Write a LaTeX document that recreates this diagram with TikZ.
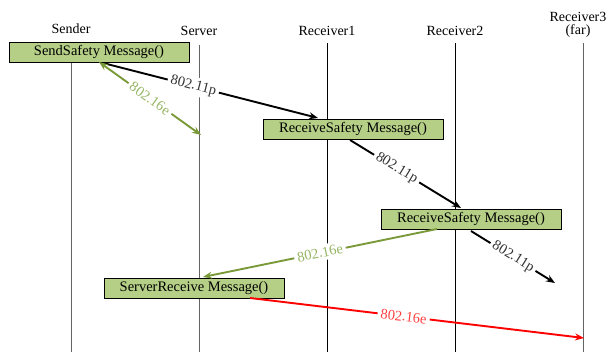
\documentclass[tikz,border=0pt]{standalone}
\usepackage{fontspec}
\setmainfont{Liberation Serif}
\usetikzlibrary{arrows.meta}
\definecolor{boxgreen}{RGB}{181,207,135}
\definecolor{arrowgreen}{RGB}{122,154,58}
\definecolor{labelgreen}{RGB}{150,182,100}
\definecolor{lifegray}{RGB}{100,100,100}
\tikzset{
  >={Stealth[length=9pt,width=7pt]},
  msgbox/.style={draw=black, fill=boxgreen, line width=0.8pt, minimum width=180pt, minimum height=20pt, inner sep=0pt, font=\fontsize{14.5}{16}\selectfont},
  head/.style={font=\fontsize{14}{16}\selectfont, align=center, inner sep=1pt},
  life/.style={line width=0.9pt, draw=lifegray},
  lifeblk/.style={line width=0.7pt, draw=black},
  msg/.style={line width=1.9pt, ->},
  lbl/.style={sloped, fill=white, inner sep=3pt, font=\fontsize{14.5}{16}\selectfont},
}
\begin{document}
\begin{tikzpicture}[x=1pt,y=-1pt]
\useasboundingbox (0,0) rectangle (607,354);

% participant headings
\node[head] (hs)  at (71,29)  {Sender};
\node[head] (hv)  at (199,31) {Server};
\node[head] (hr1) at (327,31) {Receiver1};
\node[head] (hr2) at (455,31) {Receiver2};
\node[head] (hr3) at (578,25) {Receiver3\\[-3pt](far)};

% lifeline ends
\coordinate (s0) at (71,62);   \coordinate (s1) at (71,352);
\coordinate (v0) at (199,45);  \coordinate (v1) at (199,352);
\coordinate (a0) at (327,43);  \coordinate (a1) at (327,352);
\coordinate (b0) at (455,43);  \coordinate (b1) at (455,352);
\coordinate (c0) at (583,43);  \coordinate (c1) at (583,352);

\draw[life] (s0) -- (s1);
\draw[life] (v0) -- (v1);
\draw[lifeblk] (a0) -- (a1);
\draw[lifeblk] (b0) -- (b1);
\draw[life] (c0) -- (c1);

% activity boxes
\node[msgbox] (send) at (99,52)  {SendSafety Message()};
\node[msgbox] (rx1)  at (353,129) {ReceiveSafety Message()};
\node[msgbox] (rx2)  at (471,219) {ReceiveSafety Message()};
\node[msgbox] (srv)  at (194,288.5) {ServerReceive Message()};

% message end points
\coordinate (p1) at (103,63);
\coordinate (p2) at (318,118);
\coordinate (p3) at (350,140);
\coordinate (p4) at (461,208);
\coordinate (p5) at (471,231);
\coordinate (p6) at (555,283);
\coordinate (g1) at (99,62);
\coordinate (g2) at (201,135);
\coordinate (g3) at (437,229);
\coordinate (g4) at (203,277);
\coordinate (r1) at (250,298);
\coordinate (r2) at (584,338);

% 802.11p relay chain
\draw[msg, black] (p1) -- node[lbl, pos=0.42, text=black!80] {802.11p} (p2);
\draw[msg, black] (p3) -- node[lbl, pos=0.42, text=black!80] {802.11p} (p4);
\draw[msg, black] (p5) -- node[lbl, pos=0.5, text=black!80] {802.11p} (p6);

% 802.16e links with the server
\draw[line width=1.9pt, arrowgreen, <->]
  (g1) -- node[lbl, pos=0.5, text=labelgreen] {802.16e} (g2);
\draw[msg, arrowgreen] (g3) -- node[lbl, pos=0.5, text=labelgreen] {802.16e} (g4);
\draw[msg, red] (r1) -- node[lbl, pos=0.46, text=red!75] {802.16e} (r2);

\end{tikzpicture}
\end{document}
